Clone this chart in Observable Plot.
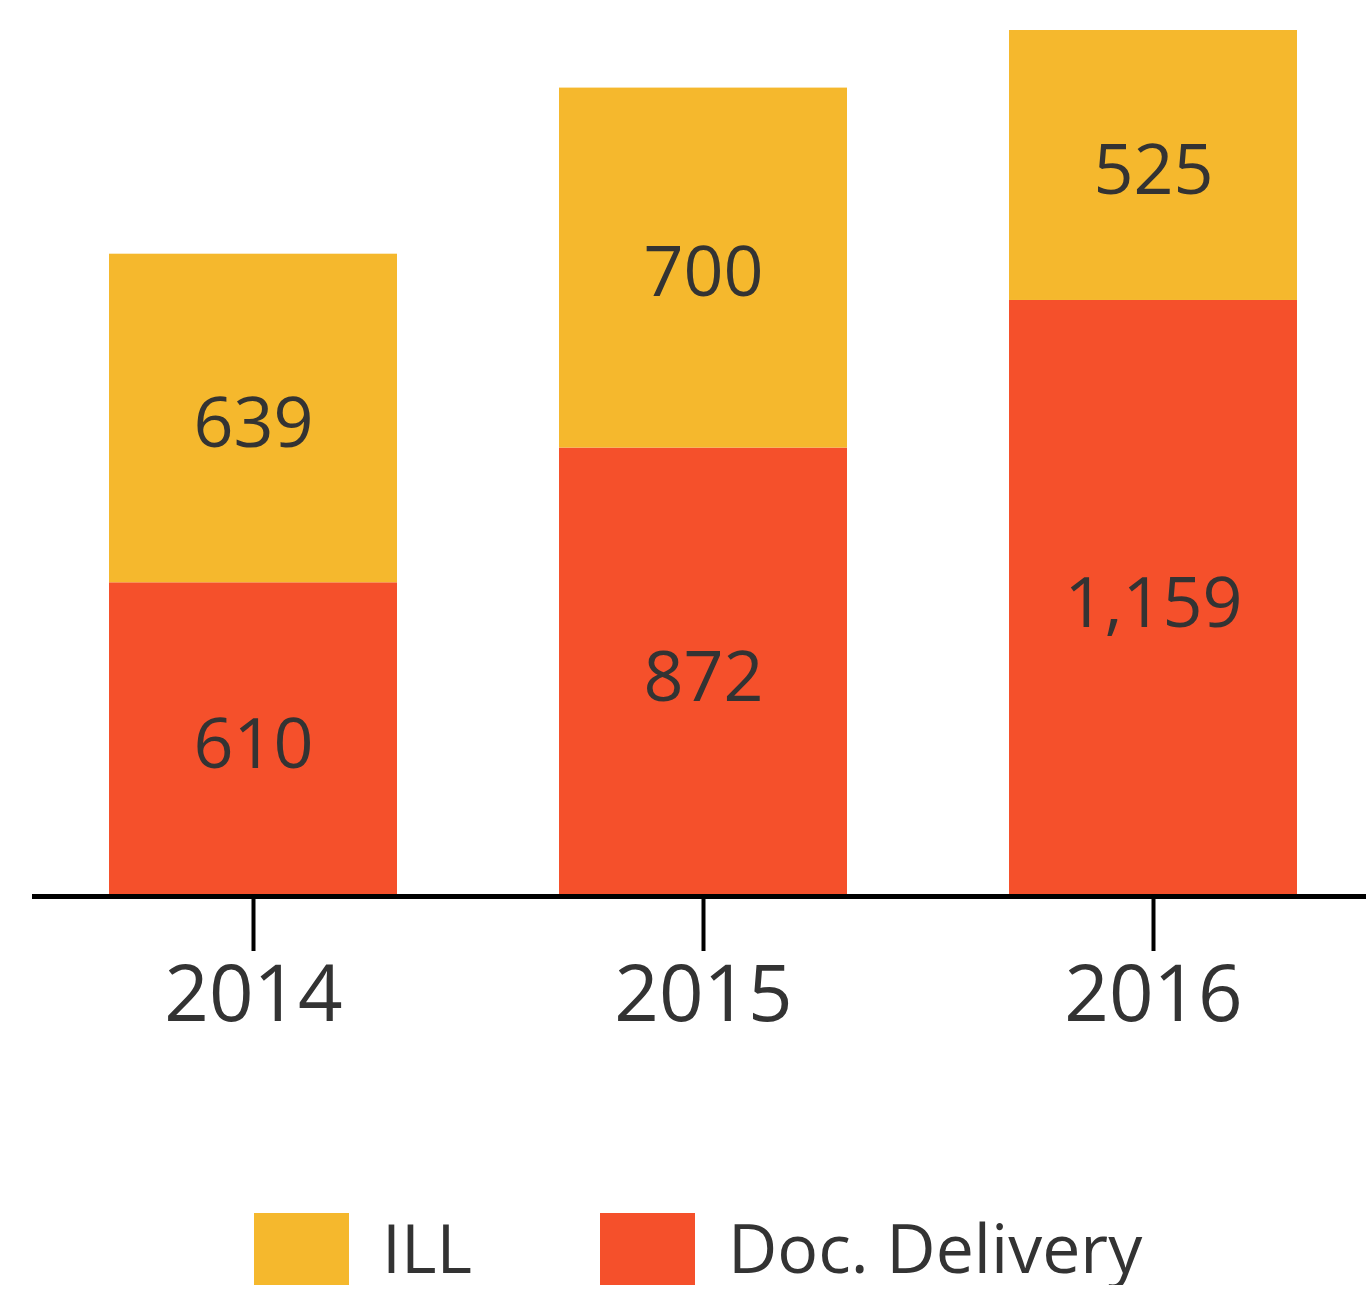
<!DOCTYPE html>
<html>
<head>
<meta charset="utf-8">
<script src="https://cdn.jsdelivr.net/npm/d3@7"></script>
<script src="https://cdn.jsdelivr.net/npm/@observablehq/plot@0.6"></script>
<style>
  html, body { margin: 0; padding: 0; background: #fff; }
  #chart svg { display: block; }
  .legend { display: flex; align-items: center; margin-top: 113px; padding-left: 254px; font-family: "Open Sans", sans-serif; font-size: 68px; color: #333; height: 72px; }
  .legend .item { display: flex; align-items: center; height: 72px; }
  .legend .sw { width: 95px; height: 72px; display: inline-block; }
  .legend .lbl { display: inline-block; margin-left: 33px; line-height: 72px; height: 72px; position: relative; top: -2px; }
</style>
</head>
<body>
<div id="chart"></div>
<div class="legend" id="legend"></div>
<script>
const years = ["2014", "2015", "2016"];
const series = ["Doc. Delivery", "ILL"];
const docDelivery = [610, 872, 1159];
const ill = [639, 700, 525];
const colors = ["#F5502B", "#F5B82D"];

const data = [];
years.forEach((y, i) => {
  data.push({year: y, type: series[0], value: docDelivery[i]});
  data.push({year: y, type: series[1], value: ill[i]});
});

const fmt = d3.format(",");

const chart = Plot.plot({
  width: 1366,
  height: 1100,
  marginLeft: 32,
  marginRight: 0,
  marginTop: 30,
  marginBottom: 204,
  style: {fontFamily: "'Open Sans', sans-serif", color: "#333", background: "#fff"},
  x: {domain: years, paddingInner: 0.36, paddingOuter: 0.16, align: 0.53, label: null},
  y: {domain: [0, d3.max(years.map((y, i) => docDelivery[i] + ill[i]))], axis: null},
  color: {domain: series, range: colors},
  marks: [
    Plot.barY(data, Plot.stackY({x: "year", y: "value", z: "type", fill: "type", order: series})),
    Plot.text(data, Plot.stackY({x: "year", y: "value", z: "type", order: series, text: d => fmt(d.value), fontSize: 70, fill: "#333", dy: 6})),
    Plot.ruleY([0], {stroke: "#000", strokeWidth: 5}),
    Plot.axisX({tickSize: 55, tickPadding: 14, fontSize: 78, stroke: "#000", strokeWidth: 4, color: "#333", fill: "#333"})
  ]
});
document.getElementById("chart").appendChild(chart);

const legend = document.getElementById("legend");
const order = ["ILL", "Doc. Delivery"];
order.forEach((name, k) => {
  const item = document.createElement("div");
  item.className = "item";
  if (k > 0) item.style.marginLeft = "128px";
  const sw = document.createElement("span");
  sw.className = "sw";
  sw.style.background = colors[series.indexOf(name)];
  const lbl = document.createElement("span");
  lbl.className = "lbl";
  lbl.textContent = name;
  item.appendChild(sw);
  item.appendChild(lbl);
  legend.appendChild(item);
});
</script>
</body>
</html>
